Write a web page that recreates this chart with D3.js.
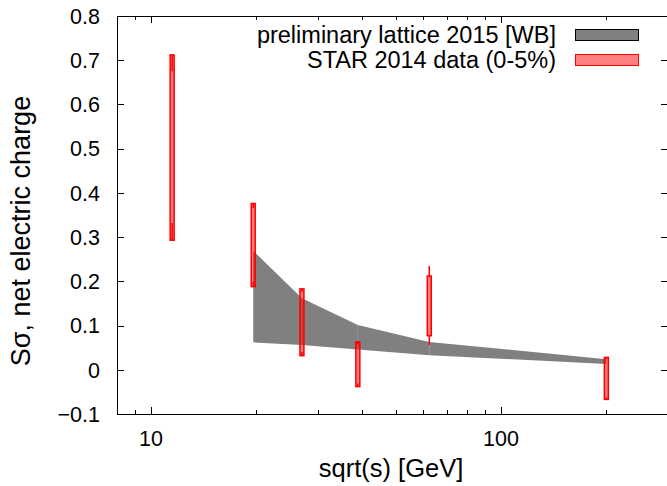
<!DOCTYPE html>
<html>
<head>
<meta charset="utf-8">
<script src="https://cdn.jsdelivr.net/npm/d3@7/dist/d3.min.js"></script>
<style>
  html, body { margin: 0; padding: 0; background: #fff; }
  svg { display: block; }
  text { font-family: "Liberation Sans", Arial, Helvetica, sans-serif; fill: #000; }
</style>
</head>
<body>
<svg id="chart" width="667" height="486"></svg>
<script>
// STAR net-charge S*sigma, 0-5% centrality
const energies = [11.5, 19.6, 27, 39, 62.4, 200];
const boxHi   = [0.712, 0.376, 0.183, 0.063, 0.212, 0.028];
const boxLo   = [0.293, 0.188, 0.032, -0.038, 0.077, -0.067];
const whiskHi = [0.675, 0.366, 0.176, 0.057, 0.235, 0.024];
const whiskLo = [0.332, 0.199, 0.040, -0.031, 0.056, -0.062];

// lattice band (upper / lower edges)
const latticeE  = [19.6, 27, 39, 62.4, 200];
const latticeHi = [0.269, 0.162, 0.101, 0.063, 0.024];
const latticeLo = [0.062, 0.056, 0.046, 0.033, 0.013];

const yTicks = [-0.1, 0, 0.1, 0.2, 0.3, 0.4, 0.5, 0.6, 0.7, 0.8];
const xMajor = [10, 100];
const xMinor = [9, 20, 30, 40, 50, 60, 70, 80, 90, 200];

const legendLabels = ["preliminary lattice 2015 [WB]", "STAR 2014 data (0-5%)"];

const L = 117, R = 668, T = 16, B = 414;
const FS_TICK = 21.5, FS_KEY = 23.5, FS_XTITLE = 25.5, FS_YTITLE = 27;

const svg = d3.select("#chart");
const x = d3.scaleLog().domain([8, 300]).range([L, R]);
const y = d3.scaleLinear().domain([-0.1, 0.8]).range([B, T]);

// lattice band, one quad per interval
const band = latticeE.map((e, i) => ({ e, hi: latticeHi[i], lo: latticeLo[i] }));
for (let i = 0; i < band.length - 1; i++) {
  const a = band[i], b = band[i + 1];
  const pts = [[x(a.e), y(a.hi)], [x(b.e), y(b.hi)], [x(b.e), y(b.lo)], [x(a.e), y(a.lo)]];
  svg.append("path")
    .attr("d", "M" + pts.map(p => p.join(",")).join("L") + "Z")
    .attr("fill", "#808080");
}

// candlesticks
const bw = 4;
const sticks = energies.map((e, i) => ({ e, bh: boxHi[i], bl: boxLo[i], wh: whiskHi[i], wl: whiskLo[i] }));
const g = svg.append("g");
g.selectAll("rect.box").data(sticks).enter().append("rect")
  .attr("x", d => x(d.e) - bw / 2)
  .attr("y", d => y(d.bh))
  .attr("width", bw)
  .attr("height", d => y(d.bl) - y(d.bh))
  .attr("fill", "rgba(255,0,0,0.5)")
  .attr("stroke", "#ff0000")
  .attr("stroke-width", 1.5);
g.selectAll("line.wh").data(sticks).enter().append("line")
  .attr("x1", d => x(d.e)).attr("x2", d => x(d.e))
  .attr("y1", d => y(d.bh)).attr("y2", d => y(d.wh))
  .attr("stroke", "#ff0000").attr("stroke-width", 1.5);
g.selectAll("line.wl").data(sticks).enter().append("line")
  .attr("x1", d => x(d.e)).attr("x2", d => x(d.e))
  .attr("y1", d => y(d.bl)).attr("y2", d => y(d.wl))
  .attr("stroke", "#ff0000").attr("stroke-width", 1.5);

// frame and ticks
const axes = svg.append("g").attr("stroke", "#000").attr("stroke-width", 1).attr("fill", "none");
axes.append("rect").attr("x", L + 0.5).attr("y", T + 0.5).attr("width", R - L).attr("height", B - T);
const tMaj = 7, tMin = 4;
yTicks.forEach(v => {
  const yy = Math.round(y(v)) + 0.5;
  axes.append("line").attr("x1", L).attr("x2", L + tMaj).attr("y1", yy).attr("y2", yy);
  axes.append("line").attr("x1", R - tMaj).attr("x2", R).attr("y1", yy).attr("y2", yy);
});
xMajor.concat(xMinor).forEach(v => {
  const len = xMajor.includes(v) ? tMaj : tMin;
  const xx = Math.round(x(v)) + 0.5;
  axes.append("line").attr("x1", xx).attr("x2", xx).attr("y1", B).attr("y2", B - len);
  axes.append("line").attr("x1", xx).attr("x2", xx).attr("y1", T).attr("y2", T + len);
});

// tick labels
svg.selectAll("text.yt").data(yTicks).enter().append("text")
  .attr("x", L - 17).attr("y", d => y(d))
  .attr("dy", "0.36em").attr("text-anchor", "end").attr("font-size", FS_TICK)
  .text(d => d3.format(".1f")(d).replace(/^-?0\.0$/, "0"));
svg.selectAll("text.xt").data(xMajor).enter().append("text")
  .attr("x", d => x(d)).attr("y", 446)
  .attr("text-anchor", "middle").attr("font-size", FS_TICK)
  .text(d => d);

// axis titles
svg.append("text").attr("x", 391).attr("y", 477)
  .attr("text-anchor", "middle").attr("font-size", FS_XTITLE).text("sqrt(s) [GeV]");
svg.append("text").attr("transform", "translate(30,231) rotate(-90)")
  .attr("text-anchor", "middle").attr("font-size", FS_YTITLE).text("Sσ, net electric charge");

// legend
const legY = [35, 60];
const legFill = ["#808080", "rgba(255,0,0,0.5)"];
const legStroke = ["#000", "#ff0000"];
legendLabels.forEach((t, i) => {
  svg.append("text").attr("x", 556).attr("y", legY[i]).attr("dy", "0.36em")
    .attr("text-anchor", "end").attr("font-size", FS_KEY).text(t);
  svg.append("rect").attr("x", 575.5).attr("y", legY[i] - 5.5).attr("width", 63).attr("height", 11)
    .attr("fill", legFill[i]).attr("stroke", legStroke[i]).attr("stroke-width", 1);
});
</script>
</body>
</html>
